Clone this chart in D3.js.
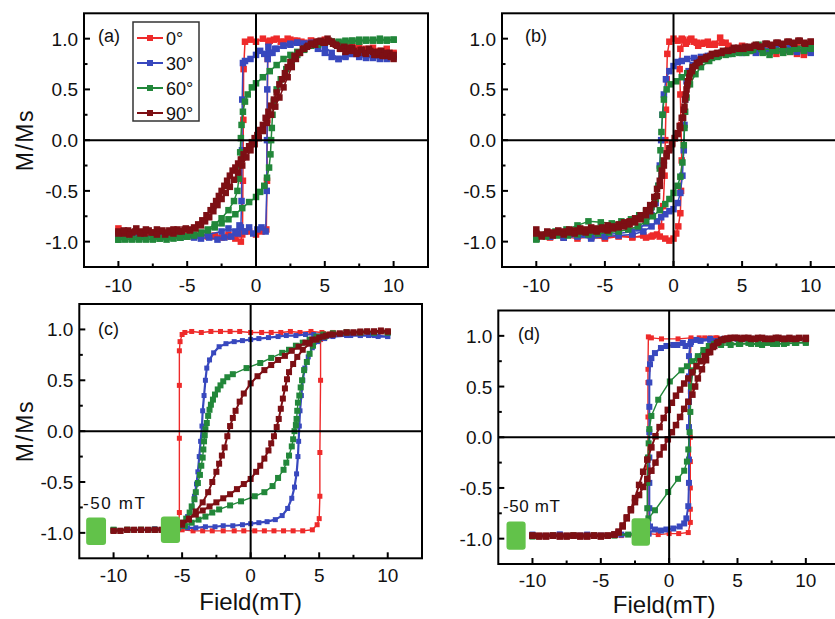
<!DOCTYPE html>
<html><head><meta charset="utf-8">
<script src="https://cdn.jsdelivr.net/npm/d3@7"></script>
<style>
body{margin:0;background:#fff}
svg{display:block}
text{font-family:"Liberation Sans",Arial,Helvetica,sans-serif;fill:#111}
</style>
</head><body>
<svg id="fig" width="835" height="619"></svg>
<script>
// ---- axis ticks ----
const fieldTicks = [-10, -5, 0, 5, 10];
const fieldMinor = [-7.5, -2.5, 2.5, 7.5];
const mTicks = [-1.0, -0.5, 0.0, 0.5, 1.0];
const mMinor = [-0.75, -0.25, 0.25, 0.75];
const angleNames = ["0°", "30°", "60°", "90°"];
const angleColors = ["#ee2a2a", "#3848be", "#22873a", "#7d0f14"];
const fieldDomain = [-12.5, 12.5];
const mDomain = [-1.25, 1.25];

// ---- panel (a): [field mT, M/Ms], down sweep then up sweep ----
const a0Down = [[10,0.86],[9.5,0.9],[9,0.87],[8.5,0.91],[8,0.88],[7.5,0.92],[7,0.9],[6.5,0.94],[6,0.95],[5.5,0.97],[5,0.99],[4.5,0.97],[4,0.98],[3.5,0.96],[3,0.98],[2.5,0.99],[2,0.97],[1.5,1.0],[1,0.98],[0.5,1.0],[0,0.97],[-0.4,0.99],[-0.8,0.97],[-0.9,0.7],[-0.92,0.2],[-0.95,-0.4],[-0.98,-0.9],[-1.1,-1.0],[-1.5,-0.97],[-2,-0.95],[-2.5,-0.96],[-3,-0.94],[-3.5,-0.95],[-4,-0.93],[-5,-0.94],[-6,-0.92],[-7,-0.93],[-8,-0.9],[-9,-0.91],[-10,-0.87]];
const a0Up = [[-10,-0.9],[-9,-0.93],[-8,-0.92],[-7,-0.94],[-6,-0.93],[-5,-0.95],[-4,-0.94],[-3,-0.95],[-2,-0.93],[-1.5,-0.95],[-1,-0.93],[-0.5,-0.9],[0,-0.93],[0.4,-0.9],[0.75,-0.88],[0.8,-0.4],[0.82,0.2],[0.85,0.8],[0.9,0.97],[1.3,0.99],[1.8,0.97],[2.3,1.0],[2.8,0.98],[3.3,0.97],[4,0.98],[5,0.97],[6,0.94],[7,0.92],[8,0.9],[9,0.88],[10,0.85]];
const a30Down = [[10,0.82],[9.5,0.85],[9,0.8],[8.5,0.83],[8,0.81],[7.5,0.84],[7,0.85],[6.5,0.82],[6,0.8],[5.5,0.86],[5,0.92],[4.5,0.95],[4,0.96],[3.5,0.95],[3,0.96],[2.5,0.94],[2,0.93],[1.5,0.9],[1.2,0.86],[0.9,0.92],[0.6,0.85],[0.3,0.88],[0,0.84],[-0.4,0.8],[-0.8,0.78],[-0.95,0.76],[-1,0.4],[-1.02,-0.1],[-1.05,-0.6],[-1.1,-0.86],[-1.3,-0.92],[-1.8,-0.95],[-2.3,-0.96],[-2.8,-0.98],[-3.4,-0.96],[-4,-0.97],[-4.5,-0.96],[-5.5,-0.95],[-7,-0.95],[-8.5,-0.94],[-10,-0.95]];
const a30Up = [[-10,-0.95],[-8.5,-0.96],[-7,-0.95],[-5.5,-0.96],[-4.5,-0.95],[-3.5,-0.93],[-2.5,-0.9],[-2,-0.87],[-1.5,-0.9],[-1.2,-0.84],[-0.8,-0.9],[-0.5,-0.86],[-0.2,-0.92],[0.1,-0.88],[0.4,-0.86],[0.7,-0.9],[0.78,-0.5],[0.8,0.0],[0.82,0.5],[0.85,0.8],[1,0.86],[1.4,0.9],[2,0.93],[2.5,0.95],[3,0.96],[3.5,0.95],[4,0.94],[4.5,0.9],[5,0.86],[5.5,0.82],[6,0.8],[6.5,0.83],[7,0.85],[7.5,0.82],[8,0.84],[8.5,0.81],[9,0.83],[9.5,0.8],[10,0.82]];
const a60Down = [[10,0.99],[9.5,0.98],[9,1.0],[8.5,0.98],[8,0.99],[7.5,0.97],[7,0.98],[6.5,0.97],[6,0.96],[5.5,0.97],[5,0.96],[4.5,0.94],[4,0.93],[3.5,0.9],[3,0.87],[2.5,0.84],[2,0.8],[1.5,0.74],[1,0.68],[0.5,0.62],[0,0.56],[-0.3,0.52],[-0.6,0.45],[-0.8,0.38],[-0.95,0.28],[-1.05,0.15],[-1.1,0.02],[-1.15,-0.12],[-1.2,-0.25],[-1.25,-0.38],[-1.35,-0.5],[-1.6,-0.6],[-2,-0.69],[-2.5,-0.77],[-3,-0.83],[-3.5,-0.88],[-4,-0.91],[-4.5,-0.93],[-5,-0.95],[-5.5,-0.96],[-6,-0.97],[-6.5,-0.98],[-7,-0.97],[-7.5,-0.98],[-8,-0.97],[-8.5,-0.98],[-9,-0.97],[-9.5,-0.98],[-10,-0.98]];
const a60Up = [[-10,-0.98],[-9.5,-0.97],[-9,-0.98],[-8.5,-0.97],[-8,-0.98],[-7.5,-0.97],[-7,-0.97],[-6.5,-0.96],[-6,-0.96],[-5.5,-0.96],[-5,-0.95],[-4.5,-0.94],[-4,-0.92],[-3.5,-0.89],[-3,-0.86],[-2.5,-0.82],[-2,-0.78],[-1.5,-0.73],[-1,-0.67],[-0.5,-0.61],[0,-0.56],[0.3,-0.51],[0.6,-0.45],[0.8,-0.37],[0.95,-0.27],[1.05,-0.14],[1.1,0],[1.15,0.12],[1.2,0.25],[1.3,0.38],[1.5,0.5],[1.8,0.6],[2.2,0.7],[2.6,0.78],[3,0.84],[3.5,0.89],[4,0.93],[4.5,0.95],[5,0.96],[5.5,0.97],[6,0.97],[6.5,0.98],[7,0.98],[7.5,0.99],[8,0.98],[8.5,0.99],[9,0.98],[9.5,0.99],[10,0.99]];
const a90Down = [[10,0.8],[9.7,0.86],[9.4,0.83],[9.1,0.88],[8.8,0.84],[8.5,0.87],[8.2,0.9],[7.9,0.86],[7.6,0.89],[7.3,0.85],[7,0.91],[6.7,0.88],[6.4,0.92],[6.1,0.9],[5.8,0.94],[5.5,0.97],[5.2,1.0],[4.9,0.96],[4.6,0.97],[4.3,0.94],[4,0.95],[3.7,0.92],[3.4,0.9],[3.1,0.86],[2.8,0.83],[2.5,0.77],[2.3,0.72],[2.1,0.66],[1.9,0.6],[1.7,0.55],[1.5,0.47],[1.3,0.4],[1.1,0.34],[0.9,0.28],[0.7,0.22],[0.5,0.15],[0.3,0.1],[0.1,0.05],[-0.1,0.02],[-0.3,-0.02],[-0.5,-0.06],[-0.7,-0.1],[-0.9,-0.14],[-1.1,-0.19],[-1.3,-0.23],[-1.5,-0.27],[-1.7,-0.3],[-1.9,-0.35],[-2.1,-0.4],[-2.3,-0.45],[-2.5,-0.5],[-2.7,-0.55],[-2.9,-0.6],[-3.1,-0.65],[-3.3,-0.69],[-3.6,-0.74],[-3.9,-0.79],[-4.2,-0.83],[-4.5,-0.86],[-4.8,-0.88],[-5.1,-0.87],[-5.4,-0.9],[-5.7,-0.88],[-6,-0.92],[-6.3,-0.89],[-6.6,-0.93],[-6.9,-0.9],[-7.2,-0.88],[-7.5,-0.91],[-7.8,-0.89],[-8.1,-0.92],[-8.4,-0.9],[-8.7,-0.87],[-9,-0.91],[-9.3,-0.89],[-9.6,-0.92],[-10,-0.9]];
const a90Up = [[-10,-0.92],[-9.6,-0.89],[-9.2,-0.93],[-8.8,-0.9],[-8.4,-0.92],[-8,-0.88],[-7.6,-0.91],[-7.2,-0.93],[-6.8,-0.89],[-6.4,-0.91],[-6,-0.88],[-5.6,-0.9],[-5.2,-0.88],[-4.8,-0.89],[-4.4,-0.87],[-4,-0.84],[-3.7,-0.8],[-3.4,-0.76],[-3.1,-0.7],[-2.8,-0.64],[-2.5,-0.58],[-2.2,-0.52],[-1.9,-0.46],[-1.6,-0.39],[-1.3,-0.32],[-1.0,-0.25],[-0.7,-0.17],[-0.4,-0.1],[-0.1,-0.04],[0.2,0.02],[0.5,0.09],[0.8,0.17],[1.1,0.25],[1.4,0.33],[1.7,0.42],[2.0,0.52],[2.3,0.62],[2.6,0.72],[2.9,0.8],[3.2,0.86],[3.5,0.9],[3.8,0.93],[4.1,0.95],[4.4,0.97],[4.7,0.98],[5.0,0.96],[5.3,0.98],[5.6,0.95],[5.9,0.93],[6.2,0.9],[6.5,0.87],[6.8,0.91],[7.1,0.88],[7.4,0.86],[7.7,0.89],[8,0.85],[8.3,0.88],[8.6,0.84],[8.9,0.87],[9.2,0.83],[9.5,0.86],[9.8,0.82],[10,0.84]];

// ---- panel (b) ----
const b0Down = [[10,0.88],[9.5,0.84],[9,0.92],[8.5,0.87],[8,0.9],[7.5,0.85],[7,0.89],[6.5,0.87],[6,0.91],[5.5,0.88],[5,0.92],[4.5,0.9],[4,0.93],[3.8,0.96],[3.4,1.01],[3,0.95],[2.6,0.94],[2.2,0.96],[1.8,0.93],[1.5,0.97],[1.2,0.99],[0.9,0.95],[0.6,1.0],[0.3,0.98],[0,1.0],[-0.3,0.97],[-0.45,0.85],[-0.5,0.6],[-0.55,0.3],[-0.6,0.0],[-0.65,-0.35],[-0.75,-0.65],[-0.9,-0.85],[-1.2,-0.93],[-1.6,-0.95],[-2.2,-0.94],[-3,-0.96],[-4,-0.95],[-5,-0.97],[-6,-0.96],[-7,-0.94],[-8,-0.96],[-9,-0.95],[-10,-0.97]];
const b0Up = [[-10,-0.94],[-9,-0.96],[-8,-0.95],[-7,-0.97],[-6,-0.95],[-5,-0.96],[-4,-0.94],[-3,-0.95],[-2,-0.96],[-1.5,-0.94],[-1.0,-0.95],[-0.6,-0.97],[-0.3,-0.99],[0,-0.97],[0.2,-0.92],[0.35,-0.85],[0.5,-0.72],[0.55,-0.5],[0.6,-0.2],[0.55,0.15],[0.5,0.45],[0.45,0.7],[0.5,0.9],[0.7,0.99],[1.0,0.97],[1.3,1.0],[1.7,0.96],[2.1,0.95],[2.5,0.97],[3,0.94],[3.5,0.96],[4,0.92],[5,0.93],[6,0.9],[7,0.92],[8,0.88],[9,0.85],[9.5,0.9],[10,0.87]];
const b30Down = [[10,0.86],[9.5,0.9],[9,0.87],[8.5,0.91],[8,0.88],[7.5,0.9],[7,0.87],[6.5,0.89],[6,0.86],[5.5,0.88],[5,0.86],[4.5,0.87],[4,0.85],[3.5,0.86],[3,0.84],[2.5,0.83],[2,0.82],[1.5,0.81],[1,0.8],[0.6,0.78],[0.3,0.77],[0,0.73],[-0.3,0.68],[-0.55,0.6],[-0.7,0.45],[-0.8,0.25],[-0.9,0.0],[-1,-0.25],[-1.1,-0.45],[-1.3,-0.62],[-1.6,-0.74],[-2,-0.82],[-2.5,-0.87],[-3,-0.9],[-4,-0.92],[-5,-0.93],[-6,-0.95],[-7,-0.94],[-8,-0.96],[-9,-0.95],[-10,-0.96]];
const b30Up = [[-10,-0.97],[-9,-0.95],[-8,-0.96],[-7,-0.95],[-6,-0.97],[-5,-0.95],[-4,-0.94],[-3,-0.93],[-2.2,-0.9],[-1.6,-0.85],[-1.2,-0.8],[-0.9,-0.76],[-0.6,-0.73],[-0.3,-0.7],[0,-0.68],[0.3,-0.62],[0.5,-0.52],[0.65,-0.35],[0.75,-0.1],[0.8,0.15],[0.85,0.4],[0.95,0.58],[1.1,0.68],[1.4,0.74],[1.8,0.78],[2.3,0.81],[3,0.83],[4,0.86],[5,0.87],[6,0.89],[7,0.88],[8,0.9],[9,0.88],[10,0.89]];
const b60Down = [[10,0.91],[9.5,0.88],[9,0.9],[8.5,0.87],[8,0.86],[7.5,0.88],[7,0.84],[6.5,0.86],[6.2,0.94],[5.8,0.89],[5.3,0.86],[4.8,0.87],[4.3,0.85],[3.8,0.84],[3.3,0.83],[2.8,0.81],[2.3,0.79],[1.8,0.75],[1.4,0.71],[1,0.66],[0.6,0.62],[0.2,0.58],[-0.2,0.55],[-0.5,0.5],[-0.7,0.4],[-0.8,0.25],[-0.88,0.08],[-0.95,-0.1],[-1.0,-0.28],[-1.1,-0.45],[-1.3,-0.58],[-1.6,-0.66],[-2,-0.7],[-2.5,-0.74],[-3.1,-0.78],[-3.8,-0.8],[-4.5,-0.82],[-5.3,-0.81],[-6.2,-0.8],[-7,-0.84],[-7.8,-0.88],[-8.6,-0.9],[-9.3,-0.93],[-10,-0.98]];
const b60Up = [[-10,-0.97],[-9.3,-0.95],[-8.5,-0.94],[-7.7,-0.94],[-7,-0.93],[-6.2,-0.93],[-5.5,-0.92],[-4.7,-0.91],[-4,-0.9],[-3.3,-0.88],[-2.6,-0.85],[-2,-0.8],[-1.5,-0.75],[-1,-0.69],[-0.6,-0.63],[-0.3,-0.58],[0,-0.52],[0.3,-0.45],[0.5,-0.36],[0.65,-0.22],[0.75,-0.05],[0.8,0.12],[0.85,0.28],[0.95,0.42],[1.2,0.55],[1.6,0.65],[2,0.72],[2.6,0.78],[3.2,0.82],[4,0.85],[4.8,0.86],[5.6,0.88],[6.4,0.9],[7.2,0.89],[8,0.91],[8.8,0.9],[9.5,0.92],[10,0.9]];
const b90Down = [[10,0.97],[9.6,0.95],[9.2,0.98],[8.8,0.95],[8.4,0.97],[8,0.94],[7.6,0.96],[7.2,0.93],[6.8,0.95],[6.4,0.92],[6,0.94],[5.6,0.91],[5.2,0.92],[4.8,0.9],[4.4,0.91],[4,0.88],[3.6,0.88],[3.2,0.86],[2.8,0.85],[2.4,0.82],[2,0.8],[1.7,0.76],[1.4,0.72],[1.2,0.66],[1.05,0.58],[0.95,0.5],[0.85,0.4],[0.75,0.3],[0.6,0.22],[0.45,0.14],[0.3,0.07],[0.1,0.02],[-0.1,-0.03],[-0.3,-0.08],[-0.5,-0.13],[-0.7,-0.2],[-0.85,-0.3],[-1,-0.4],[-1.2,-0.48],[-1.4,-0.56],[-1.7,-0.64],[-2,-0.69],[-2.4,-0.74],[-2.8,-0.77],[-3.2,-0.8],[-3.6,-0.81],[-4,-0.83],[-4.4,-0.85],[-4.8,-0.84],[-5.2,-0.86],[-5.6,-0.87],[-6,-0.86],[-6.4,-0.88],[-6.8,-0.87],[-7.2,-0.89],[-7.6,-0.88],[-8,-0.9],[-8.4,-0.89],[-8.8,-0.91],[-9.2,-0.9],[-9.6,-0.93],[-10,-0.88]];
const b90Up = [[-10,-0.92],[-9.6,-0.95],[-9.2,-0.92],[-8.8,-0.94],[-8.4,-0.91],[-8,-0.93],[-7.6,-0.91],[-7.2,-0.92],[-6.8,-0.9],[-6.4,-0.91],[-6,-0.89],[-5.6,-0.9],[-5.2,-0.88],[-4.8,-0.89],[-4.4,-0.87],[-4,-0.86],[-3.6,-0.85],[-3.2,-0.83],[-2.8,-0.81],[-2.4,-0.78],[-2,-0.74],[-1.7,-0.7],[-1.4,-0.63],[-1.2,-0.55],[-1.0,-0.45],[-0.85,-0.35],[-0.7,-0.25],[-0.5,-0.16],[-0.3,-0.1],[-0.1,-0.04],[0.1,0.02],[0.3,0.06],[0.5,0.12],[0.7,0.22],[0.8,0.33],[0.9,0.45],[1.0,0.54],[1.15,0.62],[1.35,0.68],[1.6,0.73],[1.9,0.77],[2.3,0.8],[2.7,0.83],[3.1,0.85],[3.5,0.86],[3.9,0.88],[4.3,0.89],[4.7,0.91],[5.1,0.9],[5.5,0.92],[5.9,0.93],[6.3,0.92],[6.7,0.95],[7.1,0.94],[7.5,0.96],[7.9,0.95],[8.3,0.97],[8.7,0.96],[9.1,0.98],[9.5,0.96],[10,0.97]];

// ---- panel (c) ----
const c0Down = [[10,0.97],[9,0.97],[8,0.97],[7,0.97],[6,0.97],[5.2,0.97],[4.4,0.98],[3.6,0.97],[2.9,0.98],[2.2,0.97],[1.5,0.97],[0.8,0.97],[0,0.97],[-0.8,0.98],[-1.5,0.98],[-2.2,0.98],[-2.9,0.98],[-3.6,0.97],[-4.3,0.98],[-4.8,0.97],[-5.0,0.95],[-5.15,0.88],[-5.2,0.79],[-5.2,0.45],[-5.2,-0.07],[-5.2,-0.8],[-5.25,-0.93],[-5.5,-0.97],[-6.2,-0.97],[-7,-0.97],[-8,-0.97],[-9,-0.97],[-10,-0.97]];
const c0Up = [[-10,-0.97],[-9,-0.97],[-8,-0.97],[-7,-0.97],[-6,-0.97],[-5,-0.97],[-4.2,-0.98],[-3.5,-0.98],[-2.8,-0.98],[-2,-0.98],[-1.2,-0.98],[-0.5,-0.98],[0.3,-0.98],[1,-0.98],[1.7,-0.98],[2.4,-0.98],[3.1,-0.98],[3.8,-0.98],[4.5,-0.97],[4.85,-0.92],[5.0,-0.86],[5.05,-0.64],[5.05,-0.21],[5.1,0.5],[5.1,0.9],[5.3,0.96],[6,0.97],[7,0.97],[8,0.97],[9,0.97],[10,0.97]];
const c30Down = [[10,0.93],[9.3,0.93],[8.6,0.94],[8,0.94],[7.3,0.94],[6.6,0.95],[6,0.95],[5.3,0.95],[4.6,0.95],[4,0.95],[3.3,0.94],[2.6,0.94],[2,0.93],[1.3,0.92],[0.6,0.91],[0,0.9],[-0.6,0.89],[-1.2,0.88],[-1.8,0.86],[-2.3,0.83],[-2.7,0.77],[-3.0,0.7],[-3.2,0.62],[-3.3,0.5],[-3.4,0.35],[-3.5,0.2],[-3.55,0.05],[-3.65,-0.1],[-3.75,-0.25],[-3.85,-0.4],[-3.95,-0.52],[-4.1,-0.64],[-4.3,-0.75],[-4.6,-0.84],[-5,-0.91],[-5.5,-0.95],[-6,-0.96],[-7,-0.97],[-8,-0.97],[-9,-0.97],[-10,-0.97]];
const c30Up = [[-10,-0.97],[-9,-0.97],[-8,-0.97],[-7,-0.96],[-6,-0.96],[-5.3,-0.95],[-4.6,-0.95],[-4,-0.95],[-3.3,-0.94],[-2.6,-0.94],[-2,-0.93],[-1.3,-0.93],[-0.6,-0.92],[0,-0.91],[0.6,-0.9],[1.2,-0.89],[1.8,-0.87],[2.3,-0.83],[2.7,-0.76],[3.0,-0.66],[3.2,-0.55],[3.35,-0.42],[3.45,-0.25],[3.5,-0.1],[3.55,0.05],[3.6,0.2],[3.7,0.35],[3.8,0.5],[3.95,0.62],[4.2,0.73],[4.5,0.82],[4.9,0.88],[5.4,0.91],[6,0.93],[7,0.94],[8,0.94],[9,0.94],[10,0.93]];
const c60Down = [[10,0.97],[9,0.97],[8,0.97],[7,0.97],[6,0.96],[5.3,0.95],[4.8,0.93],[4.3,0.9],[3.8,0.87],[3.3,0.84],[2.8,0.8],[2.3,0.77],[1.5,0.72],[0.7,0.67],[-0.3,0.62],[-1.3,0.56],[-1.7,0.53],[-2.0,0.49],[-2.2,0.45],[-2.4,0.41],[-2.6,0.36],[-2.75,0.31],[-2.9,0.26],[-3.0,0.21],[-3.1,0.15],[-3.2,0.08],[-3.3,0.02],[-3.35,-0.04],[-3.4,-0.1],[-3.45,-0.18],[-3.5,-0.26],[-3.6,-0.34],[-3.7,-0.43],[-3.85,-0.51],[-4.0,-0.6],[-4.1,-0.67],[-4.3,-0.74],[-4.45,-0.8],[-4.7,-0.86],[-4.9,-0.9],[-5.4,-0.95],[-6,-0.96],[-7,-0.97],[-8,-0.97],[-9,-0.97],[-10,-0.97]];
const c60Up = [[-10,-0.97],[-9,-0.97],[-8,-0.97],[-7,-0.97],[-6,-0.96],[-5.3,-0.95],[-4.8,-0.93],[-4.3,-0.9],[-3.8,-0.87],[-3.3,-0.84],[-2.8,-0.8],[-2.3,-0.77],[-1.5,-0.73],[-0.7,-0.69],[0.3,-0.64],[1.0,-0.6],[1.6,-0.54],[2.0,-0.46],[2.4,-0.38],[2.6,-0.31],[2.8,-0.24],[3.0,-0.15],[3.1,-0.08],[3.2,0],[3.3,0.06],[3.35,0.12],[3.4,0.2],[3.45,0.28],[3.55,0.35],[3.65,0.43],[3.75,0.5],[3.9,0.6],[4.1,0.68],[4.3,0.76],[4.55,0.84],[4.9,0.9],[5.4,0.93],[6,0.96],[7,0.97],[8,0.97],[9,0.97],[10,0.97]];
const c90Down = [[10,0.98],[9.5,0.99],[9,0.98],[8.5,0.98],[8,0.97],[7.5,0.97],[7,0.97],[6.5,0.96],[6,0.95],[5.5,0.94],[5,0.92],[4.5,0.9],[4,0.87],[3.5,0.83],[3,0.79],[2.5,0.74],[2,0.7],[1.5,0.65],[1,0.6],[0.5,0.54],[0,0.47],[-0.5,0.37],[-0.8,0.29],[-1.1,0.2],[-1.3,0.13],[-1.5,0.05],[-1.7,-0.05],[-1.9,-0.16],[-2.1,-0.24],[-2.3,-0.32],[-2.5,-0.4],[-2.8,-0.5],[-3.1,-0.6],[-3.5,-0.7],[-4,-0.79],[-4.5,-0.87],[-5,-0.92],[-5.5,-0.95],[-6,-0.96],[-6.5,-0.97],[-7,-0.97],[-7.5,-0.97],[-8,-0.97],[-8.5,-0.97],[-9,-0.97],[-9.5,-0.98],[-10,-0.98]];
const c90Up = [[-10,-0.98],[-9.5,-0.98],[-9,-0.97],[-8.5,-0.97],[-8,-0.97],[-7.5,-0.97],[-7,-0.97],[-6.5,-0.97],[-6,-0.96],[-5.5,-0.93],[-5,-0.9],[-4.5,-0.86],[-4,-0.82],[-3.5,-0.78],[-3,-0.74],[-2.5,-0.7],[-2,-0.66],[-1.5,-0.62],[-1,-0.57],[-0.5,-0.52],[0,-0.47],[0.4,-0.4],[0.7,-0.34],[1.0,-0.27],[1.3,-0.19],[1.5,-0.12],[1.7,-0.05],[1.9,0.04],[2.05,0.12],[2.2,0.22],[2.35,0.32],[2.5,0.42],[2.65,0.51],[2.8,0.58],[3.1,0.66],[3.4,0.73],[3.8,0.8],[4.3,0.86],[4.8,0.9],[5.3,0.93],[5.8,0.95],[6.5,0.96],[7,0.97],[7.5,0.97],[8,0.98],[8.5,0.98],[9,0.98],[9.5,0.98],[10,0.98]];

// ---- panel (d) ----
const d0Down = [[10,0.97],[9,0.97],[8,0.97],[7,0.97],[6,0.97],[5,0.97],[4.2,0.98],[3.4,0.98],[2.6,0.98],[1.6,0.98],[0.65,0.97],[-0.56,0.97],[-1.3,0.98],[-1.52,0.99],[-1.55,0.67],[-1.55,0.54],[-1.55,0.2],[-1.55,-0.3],[-1.55,-0.7],[-1.55,-0.93],[-1.8,-0.96],[-2.5,-0.97],[-3.5,-0.97],[-5,-0.97],[-6.5,-0.97],[-8,-0.97],[-10,-0.97]];
const d0Up = [[-10,-0.97],[-8,-0.97],[-6,-0.97],[-4,-0.97],[-2.5,-0.96],[-1.5,-0.95],[-0.8,-0.96],[0,-0.95],[0.7,-0.95],[1.4,-0.94],[1.55,-0.84],[1.55,-0.71],[1.55,-0.5],[1.55,-0.24],[1.55,0.0],[1.55,0.25],[1.55,0.45],[1.55,0.75],[1.6,0.96],[2.2,0.98],[3.0,0.98],[3.5,0.98],[4.5,0.97],[6,0.97],[8,0.97],[10,0.97]];
const d30Down = [[10,0.97],[9,0.97],[8,0.97],[7,0.97],[6,0.97],[5,0.97],[4,0.96],[3,0.96],[2.3,0.95],[1.6,0.94],[1.2,0.9],[1.0,0.93],[0.6,0.91],[0.3,0.91],[-0.2,0.9],[-0.6,0.88],[-1.04,0.83],[-1.3,0.78],[-1.4,0.72],[-1.45,0.54],[-1.45,0.3],[-1.45,0.05],[-1.45,-0.2],[-1.45,-0.45],[-1.45,-0.7],[-1.4,-0.88],[-1.5,-0.95],[-2.5,-0.96],[-3.5,-0.96],[-5,-0.97],[-6.5,-0.97],[-8,-0.96],[-10,-0.97]];
const d30Up = [[-10,-0.96],[-8,-0.96],[-6,-0.96],[-4,-0.96],[-2.5,-0.95],[-1.6,-0.95],[-1.04,-0.91],[-0.6,-0.92],[-0.2,-0.91],[0.3,-0.9],[0.77,-0.88],[1.1,-0.85],[1.26,-0.8],[1.4,-0.68],[1.45,-0.45],[1.45,-0.22],[1.45,0.1],[1.45,0.35],[1.45,0.6],[1.45,0.8],[1.55,0.92],[2.0,0.96],[3,0.97],[4,0.97],[5.5,0.97],[7,0.97],[8.5,0.97],[10,0.97]];
const d60Down = [[10,0.94],[9.3,0.93],[8.6,0.93],[7.9,0.92],[7.2,0.93],[6.5,0.92],[5.8,0.93],[5.1,0.92],[4.4,0.93],[3.8,0.93],[3.3,0.92],[2.9,0.9],[2.5,0.86],[2.1,0.8],[1.7,0.75],[1.3,0.7],[0.9,0.66],[0.05,0.55],[-0.8,0.37],[-1.3,0.21],[-1.45,0.08],[-1.5,-0.06],[-1.55,-0.2],[-1.6,-0.45],[-1.6,-0.7],[-1.65,-0.88],[-2,-0.95],[-3,-0.96],[-4,-0.97],[-5.5,-0.97],[-7,-0.97],[-8.5,-0.97],[-10,-0.97]];
const d60Up = [[-10,-0.98],[-8.5,-0.97],[-7,-0.97],[-5.5,-0.97],[-4,-0.96],[-2.5,-0.95],[-1.8,-0.92],[-1.52,-0.8],[-1.04,-0.72],[-0.07,-0.54],[0.65,-0.41],[1.1,-0.33],[1.3,-0.24],[1.4,-0.12],[1.5,0.05],[1.55,0.25],[1.6,0.5],[1.75,0.66],[2.1,0.78],[2.6,0.86],[3.2,0.9],[3.8,0.91],[4.5,0.91],[5.2,0.92],[6,0.92],[6.8,0.91],[7.6,0.92],[8.4,0.92],[9.2,0.93],[10,0.93]];
const d90Down = [[10,0.97],[9.5,0.98],[9,0.97],[8.5,0.97],[8,0.98],[7.5,0.97],[7,0.97],[6.5,0.98],[6,0.97],[5.5,0.98],[5,0.98],[4.5,0.98],[4.1,0.97],[3.8,0.96],[3.5,0.93],[3.2,0.89],[2.9,0.84],[2.6,0.8],[2.3,0.75],[2.0,0.7],[1.7,0.64],[1.4,0.58],[1.1,0.53],[0.8,0.47],[0.5,0.41],[0.2,0.34],[-0.1,0.27],[-0.4,0.19],[-0.7,0.1],[-1.0,0.01],[-1.3,-0.1],[-1.6,-0.22],[-1.9,-0.34],[-2.2,-0.47],[-2.5,-0.6],[-2.8,-0.71],[-3.1,-0.8],[-3.4,-0.88],[-3.7,-0.94],[-4.0,-0.96],[-4.5,-0.97],[-5,-0.97],[-5.5,-0.97],[-6,-0.98],[-6.5,-0.97],[-7,-0.97],[-7.5,-0.98],[-8,-0.97],[-8.5,-0.97],[-9,-0.98],[-9.5,-0.97],[-10,-0.97]];
const d90Up = [[-10,-0.97],[-9.5,-0.98],[-9,-0.97],[-8.5,-0.97],[-8,-0.98],[-7.5,-0.97],[-7,-0.97],[-6.5,-0.98],[-6,-0.97],[-5.5,-0.97],[-5,-0.98],[-4.5,-0.97],[-4,-0.96],[-3.7,-0.93],[-3.4,-0.87],[-3.1,-0.79],[-2.8,-0.72],[-2.5,-0.64],[-2.2,-0.57],[-1.9,-0.49],[-1.6,-0.41],[-1.3,-0.33],[-1.0,-0.25],[-0.7,-0.17],[-0.4,-0.1],[-0.1,-0.02],[0.2,0.05],[0.5,0.12],[0.8,0.2],[1.1,0.28],[1.4,0.35],[1.7,0.42],[1.9,0.5],[2.1,0.58],[2.4,0.67],[2.7,0.76],[3.0,0.84],[3.3,0.9],[3.6,0.94],[3.9,0.96],[4.3,0.97],[4.8,0.98],[5.3,0.97],[5.8,0.98],[6.3,0.97],[6.8,0.98],[7.3,0.97],[7.8,0.98],[8.3,0.97],[8.8,0.98],[9.3,0.97],[10,0.98]];

// the -50 mT reset marker boxes, [field from, field to, M from, M to]
const resetBoxesC = [[-12.0, -10.55, -0.85, -1.12], [-6.55, -5.15, -0.84, -1.10]];
const resetBoxesD = [[-11.9, -10.5, -0.83, -1.11], [-2.75, -1.4, -0.80, -1.07]];
const resetLabel = "-50 mT";

// ---- layout of the four sub-figures ----
const panels = [
  {tag: "(a)", box: {l: 84, t: 13.3, r: 428, b: 267}, loops: [[a0Down,a0Up],[a30Down,a30Up],[a60Down,a60Up],[a90Down,a90Up]],
   size: [6.5,6.5,6.5,6.5], width: [1.5,1.5,1.5,1.5], yTitle: true, legend: true,
   tagPos: [98, 42], xLabelGap: 25},
  {tag: "(b)", box: {l: 502, t: 13.3, r: 845, b: 267}, loops: [[b0Down,b0Up],[b30Down,b30Up],[b60Down,b60Up],[b90Down,b90Up]],
   size: [6.5,6.5,6.5,6.5], width: [1.5,1.5,1.5,1.5], yTitle: false,
   tagPos: [525, 42], xLabelGap: 25},
  {tag: "(c)", box: {l: 79.3, t: 304, r: 422, b: 558.3}, loops: [[c0Down,c0Up],[c30Down,c30Up],[c60Down,c60Up],[c90Down,c90Up]],
   size: [5,5,6,6], width: [1.4,2.2,1.4,2], yTitle: true, xTitleY: 610, boxes: resetBoxesC,
   tagPos: [98, 335], labelPos: [83, 509], labelSpacing: 1.6, xLabelGap: 24},
  {tag: "(d)", box: {l: 498.3, t: 310.5, r: 840, b: 564}, loops: [[d0Down,d0Up],[d30Down,d30Up],[d60Down,d60Up],[d90Down,d90Up]],
   size: [5,6,6,6.5], width: [1.4,2,1.4,2], yTitle: false, xTitleY: 613, boxes: resetBoxesD,
   tagPos: [518, 340], labelPos: [503, 512], labelSpacing: 0.6, xLabelGap: 23}
];

const svg = d3.select("#fig");
svg.append("rect").attr("width", 835).attr("height", 619).attr("fill", "#fff");

panels.forEach((p, pi) => {
  const x = d3.scaleLinear().domain(fieldDomain).range([p.box.l, p.box.r]);
  const y = d3.scaleLinear().domain(mDomain).range([p.box.b, p.box.t]);
  const g = svg.append("g");
  const clipId = "clip" + pi;
  g.append("clipPath").attr("id", clipId)
    .append("rect").attr("x", p.box.l).attr("y", p.box.t)
    .attr("width", p.box.r - p.box.l).attr("height", p.box.b - p.box.t);

  const plot = g.append("g").attr("clip-path", `url(#${clipId})`);
  const line = d3.line().x(d => x(d[0])).y(d => y(d[1]));

  p.loops.forEach((loop, i) => {
    const pts = loop[0].concat(loop[1]);
    const s = p.size[i];
    const sg = plot.append("g");
    sg.append("path").attr("d", line(pts)).attr("fill", "none")
      .attr("stroke", angleColors[i]).attr("stroke-width", p.width[i]).attr("stroke-linejoin", "round");
    sg.selectAll("rect").data(pts).join("rect")
      .attr("x", d => x(d[0]) - s / 2).attr("y", d => y(d[1]) - s / 2)
      .attr("width", s).attr("height", s).attr("fill", angleColors[i]);
  });

  // zero lines
  plot.append("line").attr("x1", x(0)).attr("x2", x(0)).attr("y1", p.box.t).attr("y2", p.box.b)
    .attr("stroke", "#000").attr("stroke-width", 2);
  plot.append("line").attr("x1", p.box.l).attr("x2", p.box.r).attr("y1", y(0)).attr("y2", y(0))
    .attr("stroke", "#000").attr("stroke-width", 2);

  // reset-field markers
  if (p.boxes) {
    g.selectAll("rect.reset").data(p.boxes).join("rect").attr("class", "reset")
      .attr("x", d => x(d[0])).attr("y", d => y(d[2]))
      .attr("width", d => x(d[1]) - x(d[0])).attr("height", d => y(d[3]) - y(d[2]))
      .attr("rx", 3).attr("fill", "#62c24a");
    g.append("text").attr("x", p.labelPos[0]).attr("y", p.labelPos[1])
      .attr("font-size", 17).attr("letter-spacing", p.labelSpacing).text(resetLabel);
  }

  // frame
  g.append("rect").attr("x", p.box.l).attr("y", p.box.t)
    .attr("width", p.box.r - p.box.l).attr("height", p.box.b - p.box.t)
    .attr("fill", "none").attr("stroke", "#000").attr("stroke-width", 2);

  // x ticks (inward)
  g.selectAll("line.xt").data(fieldTicks).join("line").attr("class", "xt")
    .attr("x1", d => x(d)).attr("x2", d => x(d)).attr("y1", p.box.b).attr("y2", p.box.b - 6)
    .attr("stroke", "#000").attr("stroke-width", 2);
  g.selectAll("line.xm").data(fieldMinor).join("line").attr("class", "xm")
    .attr("x1", d => x(d)).attr("x2", d => x(d)).attr("y1", p.box.b).attr("y2", p.box.b - 3.5)
    .attr("stroke", "#000").attr("stroke-width", 2);
  g.selectAll("text.xl").data(fieldTicks).join("text").attr("class", "xl")
    .attr("x", d => x(d)).attr("y", p.box.b + p.xLabelGap).attr("text-anchor", "middle")
    .attr("font-size", 19).text(d => d3.format("d")(d).replace("−", "-"));

  // y ticks (inward)
  g.selectAll("line.yt").data(mTicks).join("line").attr("class", "yt")
    .attr("x1", p.box.l).attr("x2", p.box.l + 6).attr("y1", d => y(d)).attr("y2", d => y(d))
    .attr("stroke", "#000").attr("stroke-width", 2);
  g.selectAll("line.ym").data(mMinor).join("line").attr("class", "ym")
    .attr("x1", p.box.l).attr("x2", p.box.l + 3.5).attr("y1", d => y(d)).attr("y2", d => y(d))
    .attr("stroke", "#000").attr("stroke-width", 2);
  g.selectAll("text.yl").data(mTicks).join("text").attr("class", "yl")
    .attr("x", p.box.l - 6).attr("y", d => y(d) + 7).attr("text-anchor", "end")
    .attr("font-size", 19).text(d => d3.format(".1f")(d).replace("−", "-"));

  // panel tag
  g.append("text").attr("x", p.tagPos[0]).attr("y", p.tagPos[1]).attr("font-size", 18).text(p.tag);

  if (p.yTitle) {
    const cy = (p.box.t + p.box.b) / 2;
    g.append("text").attr("transform", `translate(33,${cy}) rotate(-90)`)
      .attr("text-anchor", "middle").attr("font-size", 23).attr("letter-spacing", 1.5).text("M/Ms");
  }
  if (p.xTitleY) {
    g.append("text").attr("x", (p.box.l + p.box.r) / 2 + (pi === 3 ? -5 : 0)).attr("y", p.xTitleY)
      .attr("text-anchor", "middle").attr("font-size", 24).text("Field(mT)");
  }

  if (p.legend) {
    const lg = g.append("g");
    lg.append("rect").attr("x", 133).attr("y", 22).attr("width", 66).attr("height", 99)
      .attr("fill", "#fff").attr("stroke", "#333").attr("stroke-width", 1.5);
    const rows = lg.selectAll("g.row").data(angleNames).join("g").attr("class", "row")
      .attr("transform", (d, i) => `translate(0,${38 + i * 25})`);
    rows.append("line").attr("x1", 137).attr("x2", 163).attr("y1", 0).attr("y2", 0)
      .attr("stroke", (d, i) => angleColors[i]).attr("stroke-width", 2);
    rows.append("rect").attr("x", 147).attr("y", -3).attr("width", 6).attr("height", 6)
      .attr("fill", (d, i) => angleColors[i]);
    rows.append("text").attr("x", 166).attr("y", 6.5).attr("font-size", 18).text(d => d);
  }
});
</script>
</body></html>
